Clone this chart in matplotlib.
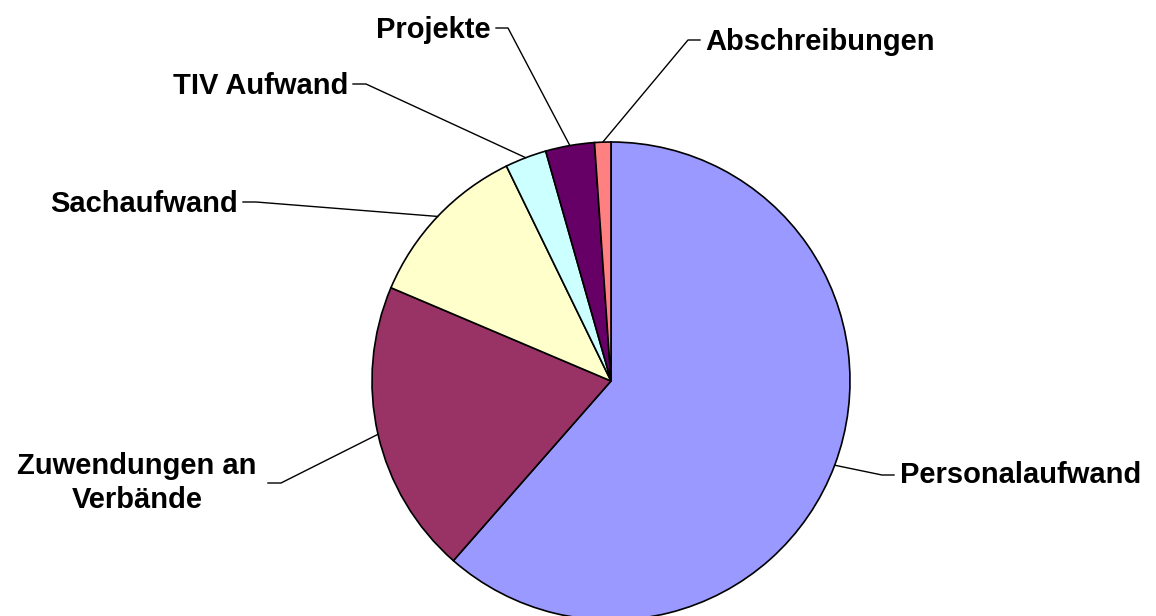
import numpy as np
import matplotlib
matplotlib.use("Agg")
import matplotlib.pyplot as plt

# data (share of total, %)
labels = ["Personalaufwand", "Zuwendungen an\nVerbände", "Sachaufwand",
          "TIV Aufwand", "Projekte", "Abschreibungen"]
values = [61.4, 19.9, 11.4, 2.8, 3.3, 1.1]
colors = ["#9999FF", "#993366", "#FFFFCC", "#CCFFFF", "#660066", "#FF8080"]

W, H = 1156, 616
fig = plt.figure(figsize=(W / 100, H / 100), dpi=100)
ax = fig.add_axes([0, 0, 1, 1])

cx, cy, r = 611, H - 381, 239
wedges, _ = ax.pie(values, colors=colors, startangle=90, counterclock=False,
                   center=(cx, cy), radius=r,
                   wedgeprops=dict(edgecolor="black", linewidth=1.2))
ax.set_xlim(0, W)
ax.set_ylim(0, H)
ax.set_aspect("auto")
ax.axis("off")

# label layout: elbow point (x, y from top), horizontal tick end, text anchor
layout = [
    dict(elbow=(882, 475), tick=(894, 475), text=(900, 475), ha="left"),
    dict(elbow=(281, 483), tick=(268, 483), text=(137, 483), ha="center"),
    dict(elbow=(256, 202), tick=(243, 202), text=(238, 204), ha="right"),
    dict(elbow=(366, 84), tick=(353, 84), text=(348, 86), ha="right"),
    dict(elbow=(508, 28), tick=(496, 28), text=(491, 30), ha="right"),
    dict(elbow=(688, 40), tick=(700, 40), text=(705, 42), ha="left"),
]

for w, lab, lay in zip(wedges, labels, layout):
    ang = np.deg2rad((w.theta1 + w.theta2) / 2)
    sx, sy = cx + r * np.cos(ang), cy + r * np.sin(ang)
    ex, ey = lay["elbow"]
    tx, ty = lay["tick"]
    ax.plot([sx, ex, tx], [sy, H - ey, H - ty], color="black", lw=1)
    ax.text(lay["text"][0], H - lay["text"][1], lab, ha=lay["ha"], va="center",
            fontsize=21, fontweight="bold", family="Liberation Sans",
            linespacing=1.3)

fig.savefig("out.png", dpi=100)
